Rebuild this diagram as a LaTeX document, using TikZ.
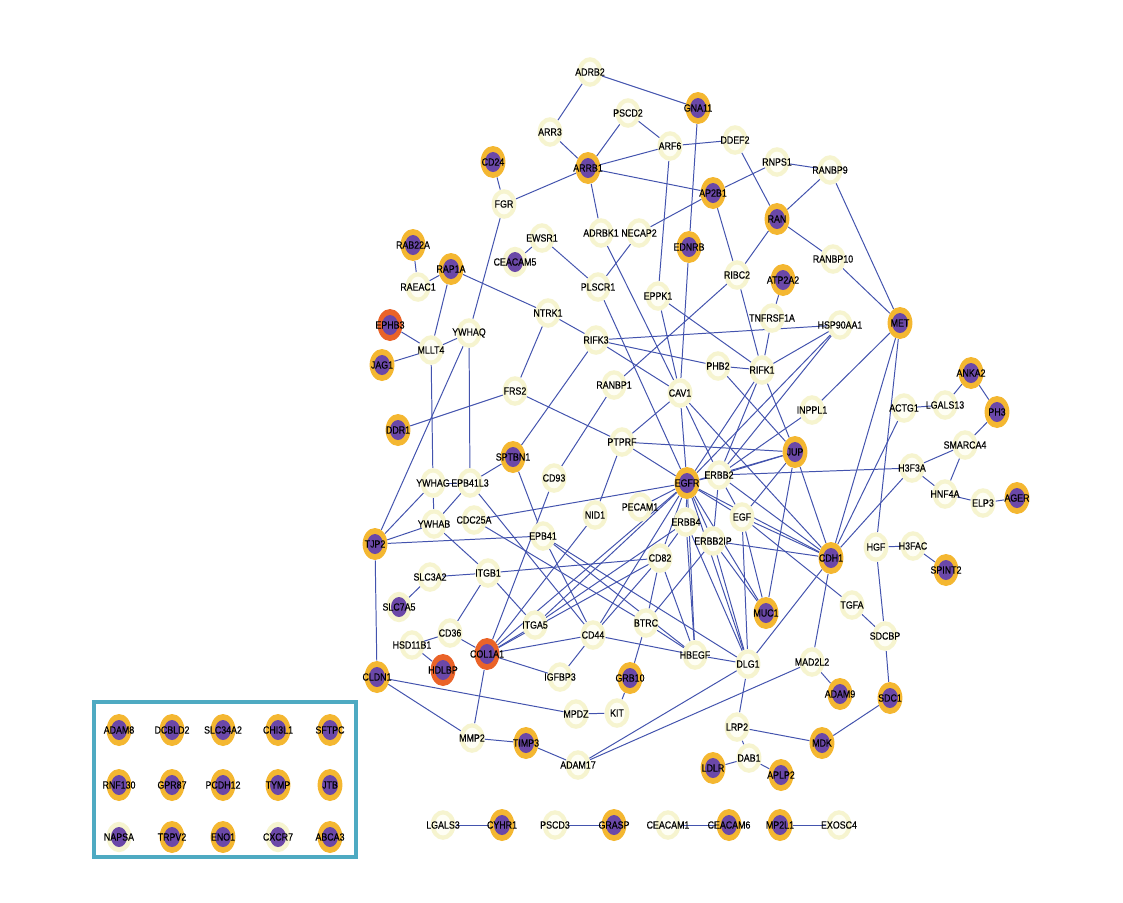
\documentclass[tikz,border=0pt]{standalone}
\usepackage{fontspec}
\newfontfamily\lblfont[FakeStretch=0.85,FakeBold=0.3]{Liberation Sans}
\usetikzlibrary{shapes.geometric}
\pgfdeclarelayer{bg}
\pgfsetlayers{bg,main}
\definecolor{gold}{HTML}{F4B731}
\definecolor{purp}{HTML}{6B48A8}
\definecolor{redo}{HTML}{EA6328}
\definecolor{cream}{HTML}{F6F4CF}
\definecolor{creamin}{HTML}{FEFEF4}
\definecolor{edgeblue}{HTML}{4353AE}
\definecolor{boxteal}{HTML}{4EAAC2}
\tikzset{
  nbase/.style={ellipse, inner sep=0pt, draw=none, minimum width=0.62cm, minimum height=0.8cm},
  gnode/.style={nbase, fill=gold, path picture={\fill[purp] (path picture bounding box.center) ellipse [x radius=0.2cm, y radius=0.25cm];}},
  rnode/.style={nbase, fill=redo, path picture={\fill[purp] (path picture bounding box.center) ellipse [x radius=0.2cm, y radius=0.25cm];}},
  cnode/.style={nbase, minimum height=0.74cm, fill=cream, path picture={\fill[creamin] (path picture bounding box.center) ellipse [x radius=0.2cm, y radius=0.26cm];}},
  cpnode/.style={nbase, minimum height=0.76cm, fill=cream, path picture={\fill[purp] (path picture bounding box.center) ellipse [x radius=0.2cm, y radius=0.25cm];}},
  lbl/.style={font=\lblfont\fontsize{7.4}{8}\selectfont, text=black, inner sep=0pt},
  edge/.style={draw=edgeblue, line width=0.7pt}
}
\begin{document}
\begin{tikzpicture}[x=0.025cm, y=-0.025cm]
\useasboundingbox (0,0) rectangle (1123,902);
% nodes
\node[cnode, label={[lbl]center:ADRB2}] (ADRB2) at (590,72) {};
\node[gnode, label={[lbl]center:GNA11}] (GNA11) at (698,108) {};
\node[cnode, label={[lbl]center:PSCD2}] (PSCD2) at (628,113) {};
\node[cnode, label={[lbl]center:ARR3}] (ARR3) at (550,132) {};
\node[cnode, label={[lbl]center:ARF6}] (ARF6) at (670,146) {};
\node[cnode, label={[lbl]center:DDEF2}] (DDEF2) at (735,140) {};
\node[gnode, label={[lbl]center:ARRB1}] (ARRB1) at (588,168) {};
\node[cnode, label={[lbl]center:RNPS1}] (RNPS1) at (777,162) {};
\node[cnode, label={[lbl]center:RANBP9}] (RANBP9) at (830,170) {};
\node[gnode, label={[lbl]center:CD24}] (CD24) at (493,162) {};
\node[gnode, label={[lbl]center:AP2B1}] (AP2B1) at (713,193) {};
\node[cnode, label={[lbl]center:FGR}] (FGR) at (504,204) {};
\node[gnode, label={[lbl]center:RAN}] (RAN) at (777,219) {};
\node[cnode, label={[lbl]center:ADRBK1}] (ADRBK1) at (601,233) {};
\node[cnode, label={[lbl]center:NECAP2}] (NECAP2) at (639,233) {};
\node[cnode, label={[lbl]center:EWSR1}] (EWSR1) at (542,238) {};
\node[gnode, label={[lbl]center:EDNRB}] (EDNRB) at (689,247) {};
\node[cnode, label={[lbl]center:RANBP10}] (RANBP10) at (833,259) {};
\node[cpnode, label={[lbl]center:CEACAM5}] (CEACAM5) at (515,262) {};
\node[gnode, label={[lbl]center:RAB22A}] (RAB22A) at (413,245) {};
\node[gnode, label={[lbl]center:RAP1A}] (RAP1A) at (451,269) {};
\node[cnode, label={[lbl]center:RAEAC1}] (RAEAC1) at (418,287) {};
\node[cnode, label={[lbl]center:PLSCR1}] (PLSCR1) at (598,287) {};
\node[cnode, label={[lbl]center:RIBC2}] (RIBC2) at (737,275) {};
\node[gnode, label={[lbl]center:ATP2A2}] (ATP2A2) at (783,280) {};
\node[cnode, label={[lbl]center:EPPK1}] (EPPK1) at (658,296) {};
\node[cnode, label={[lbl]center:NTRK1}] (NTRK1) at (548,313) {};
\node[rnode, label={[lbl]center:EPHB3}] (EPHB3) at (390,325) {};
\node[cnode, label={[lbl]center:MLLT4}] (MLLT4) at (431,350) {};
\node[cnode, label={[lbl]center:YWHAQ}] (YWHAQ) at (469,333) {};
\node[cnode, label={[lbl]center:RIFK3}] (RIFK3) at (596,340) {};
\node[cnode, label={[lbl]center:TNFRSF1A}] (TNFRSF1A) at (772,318) {};
\node[cnode, label={[lbl]center:HSP90AA1}] (HSP90AA1) at (840,325) {};
\node[gnode, label={[lbl]center:MET}] (MET) at (900,323) {};
\node[gnode, label={[lbl]center:JAG1}] (JAG1) at (382,365) {};
\node[cnode, label={[lbl]center:PHB2}] (PHB2) at (718,366) {};
\node[cnode, label={[lbl]center:RIFK1}] (RIFK1) at (762,370) {};
\node[cnode, label={[lbl]center:CAV1}] (CAV1) at (680,393) {};
\node[cnode, label={[lbl]center:RANBP1}] (RANBP1) at (614,385) {};
\node[cnode, label={[lbl]center:FRS2}] (FRS2) at (515,391) {};
\node[cnode, label={[lbl]center:INPPL1}] (INPPL1) at (812,410) {};
\node[cnode, label={[lbl]center:ACTG1}] (ACTG1) at (904,408) {};
\node[cnode, label={[lbl]center:LGALS13}] (LGALS13) at (945,405) {};
\node[gnode, label={[lbl]center:ANKA2}] (ANKA2) at (971,373) {};
\node[gnode, label={[lbl]center:PH3}] (PH3) at (997,412) {};
\node[gnode, label={[lbl]center:DDR1}] (DDR1) at (398,430) {};
\node[cnode, label={[lbl]center:PTPRF}] (PTPRF) at (622,442) {};
\node[gnode, label={[lbl]center:JUP}] (JUP) at (795,452) {};
\node[cnode, label={[lbl]center:SMARCA4}] (SMARCA4) at (965,445) {};
\node[gnode, label={[lbl]center:SPTBN1}] (SPTBN1) at (513,457) {};
\node[cnode, label={[lbl]center:CD93}] (CD93) at (554,478) {};
\node[gnode, label={[lbl]center:EGFR}] (EGFR) at (687,483) {};
\node[cnode, label={[lbl]center:ERBB2}] (ERBB2) at (719,475) {};
\node[cnode, label={[lbl]center:H3F3A}] (H3F3A) at (912,468) {};
\node[cnode, label={[lbl]center:YWHAG}] (YWHAG) at (433,483) {};
\node[cnode, label={[lbl]center:EPB41L3}] (EPB41L3) at (470,483) {};
\node[cnode, label={[lbl]center:HNF4A}] (HNF4A) at (945,494) {};
\node[cnode, label={[lbl]center:ELP3}] (ELP3) at (983,503) {};
\node[gnode, label={[lbl]center:AGER}] (AGER) at (1017,498) {};
\node[gnode, label={[lbl]center:TJP2}] (TJP2) at (375,544) {};
\node[cnode, label={[lbl]center:YWHAB}] (YWHAB) at (434,524) {};
\node[cnode, label={[lbl]center:CDC25A}] (CDC25A) at (474,520) {};
\node[cnode, label={[lbl]center:NID1}] (NID1) at (595,515) {};
\node[cnode, label={[lbl]center:PECAM1}] (PECAM1) at (640,507) {};
\node[cnode, label={[lbl]center:EGF}] (EGF) at (742,517) {};
\node[cnode, label={[lbl]center:ERBB4}] (ERBB4) at (686,522) {};
\node[cnode, label={[lbl]center:ERBB2IP}] (ERBB2IP) at (713,541) {};
\node[cnode, label={[lbl]center:EPB41}] (EPB41) at (543,536) {};
\node[cnode, label={[lbl]center:CD82}] (CD82) at (660,558) {};
\node[gnode, label={[lbl]center:CDH1}] (CDH1) at (831,558) {};
\node[cnode, label={[lbl]center:HGF}] (HGF) at (876,547) {};
\node[cnode, label={[lbl]center:H3FAC}] (H3FAC) at (913,546) {};
\node[gnode, label={[lbl]center:SPINT2}] (SPINT2) at (946,570) {};
\node[cnode, label={[lbl]center:ITGB1}] (ITGB1) at (488,573) {};
\node[cnode, label={[lbl]center:SLC3A2}] (SLC3A2) at (430,577) {};
\node[cpnode, label={[lbl]center:SLC7A5}] (SLC7A5) at (399,607) {};
\node[cnode, label={[lbl]center:TGFA}] (TGFA) at (852,605) {};
\node[gnode, label={[lbl]center:MUC1}] (MUC1) at (766,613) {};
\node[cnode, label={[lbl]center:ITGA5}] (ITGA5) at (535,625) {};
\node[cnode, label={[lbl]center:BTRC}] (BTRC) at (646,623) {};
\node[cnode, label={[lbl]center:CD44}] (CD44) at (593,635) {};
\node[cnode, label={[lbl]center:CD36}] (CD36) at (450,633) {};
\node[cnode, label={[lbl]center:HSD11B1}] (HSD11B1) at (412,645) {};
\node[rnode, label={[lbl]center:COL1A1}] (COL1A1) at (487,654) {};
\node[cnode, label={[lbl]center:HBEGF}] (HBEGF) at (695,655) {};
\node[cnode, label={[lbl]center:DLG1}] (DLG1) at (748,664) {};
\node[cnode, label={[lbl]center:SDCBP}] (SDCBP) at (885,636) {};
\node[cnode, label={[lbl]center:MAD2L2}] (MAD2L2) at (812,662) {};
\node[gnode, label={[lbl]center:CLDN1}] (CLDN1) at (377,677) {};
\node[rnode, label={[lbl]center:HDLBP}] (HDLBP) at (443,670) {};
\node[cnode, label={[lbl]center:IGFBP3}] (IGFBP3) at (560,677) {};
\node[gnode, label={[lbl]center:GRB10}] (GRB10) at (630,678) {};
\node[gnode, label={[lbl]center:ADAM9}] (ADAM9) at (840,694) {};
\node[gnode, label={[lbl]center:SDC1}] (SDC1) at (890,698) {};
\node[cnode, label={[lbl]center:MPDZ}] (MPDZ) at (576,714) {};
\node[cnode, label={[lbl]center:KIT}] (KIT) at (617,713) {};
\node[cnode, label={[lbl]center:LRP2}] (LRP2) at (737,727) {};
\node[gnode, label={[lbl]center:MDK}] (MDK) at (822,743) {};
\node[cnode, label={[lbl]center:MMP2}] (MMP2) at (472,738) {};
\node[gnode, label={[lbl]center:TIMP3}] (TIMP3) at (526,743) {};
\node[cnode, label={[lbl]center:ADAM17}] (ADAM17) at (578,765) {};
\node[cnode, label={[lbl]center:DAB1}] (DAB1) at (749,758) {};
\node[gnode, label={[lbl]center:LDLR}] (LDLR) at (713,768) {};
\node[gnode, label={[lbl]center:APLP2}] (APLP2) at (781,775) {};
% bottom pairs
\node[cnode, label={[lbl]center:LGALS3}] (LGALS3) at (443,825) {};
\node[gnode, label={[lbl]center:CYHR1}] (CYHR1) at (502,825) {};
\node[cnode, label={[lbl]center:PSCD3}] (PSCD3) at (555,825) {};
\node[gnode, label={[lbl]center:GRASP}] (GRASP) at (614,825) {};
\node[cnode, label={[lbl]center:CEACAM1}] (CEACAM1) at (668,825) {};
\node[gnode, label={[lbl]center:CEACAM6}] (CEACAM6) at (729,825) {};
\node[gnode, label={[lbl]center:MP2L1}] (MP2L1) at (780,825) {};
\node[cnode, label={[lbl]center:EXOSC4}] (EXOSC4) at (839,825) {};
% box
\draw[boxteal, line width=0.1cm] (94,702) rectangle (356,857);
\node[gnode, label={[lbl]center:ADAM8}] (ADAM8) at (119,730) {};
\node[gnode, label={[lbl]center:DCBLD2}] (DCBLD2) at (172,730) {};
\node[gnode, label={[lbl]center:SLC34A2}] (SLC34A2) at (223,730) {};
\node[gnode, label={[lbl]center:CHI3L1}] (CHI3L1) at (278,730) {};
\node[gnode, label={[lbl]center:SFTPC}] (SFTPC) at (330,730) {};
\node[gnode, label={[lbl]center:RNF130}] (RNF130) at (119,785) {};
\node[gnode, label={[lbl]center:GPR87}] (GPR87) at (172,785) {};
\node[gnode, label={[lbl]center:PCDH12}] (PCDH12) at (223,785) {};
\node[gnode, label={[lbl]center:TYMP}] (TYMP) at (278,785) {};
\node[gnode, label={[lbl]center:JTB}] (JTB) at (330,785) {};
\node[cpnode, label={[lbl]center:NAPSA}] (NAPSA) at (119,837) {};
\node[gnode, label={[lbl]center:TRPV2}] (TRPV2) at (172,837) {};
\node[gnode, label={[lbl]center:ENO1}] (ENO1) at (223,837) {};
\node[cpnode, label={[lbl]center:CXCR7}] (CXCR7) at (278,837) {};
\node[gnode, label={[lbl]center:ABCA3}] (ABCA3) at (330,837) {};
% edges
\begin{pgfonlayer}{bg}
\fill[white] (0,0) rectangle (1123,902);
\foreach \a/\b in {ADRB2/ARR3, ADRB2/GNA11, ARR3/ARRB1, PSCD2/ARRB1, PSCD2/ARF6, ARF6/ARRB1, ARF6/DDEF2, ARF6/EPPK1, ARRB1/FGR, ARRB1/ADRBK1, ARRB1/AP2B1, GNA11/EDNRB, DDEF2/RAN, AP2B1/RNPS1, AP2B1/NECAP2, AP2B1/RIBC2, RNPS1/RANBP9, RANBP9/RAN, RANBP9/MET, RAN/RIBC2, RAN/RANBP10, RANBP10/MET, RIBC2/RIFK1, RIBC2/RANBP1, ATP2A2/TNFRSF1A, TNFRSF1A/RIFK1, EDNRB/CAV1, NECAP2/PLSCR1, ADRBK1/CAV1, EWSR1/CEACAM5, EWSR1/PLSCR1, PLSCR1/EGFR, CD24/FGR, FGR/YWHAQ, RAB22A/RAEAC1, RAEAC1/RAP1A, RAP1A/NTRK1, RAP1A/MLLT4, NTRK1/RIFK3, NTRK1/FRS2, EPHB3/MLLT4, JAG1/MLLT4, MLLT4/YWHAQ, MLLT4/YWHAG, YWHAQ/EPB41L3, YWHAQ/TJP2, FRS2/DDR1, FRS2/PTPRF, RIFK3/CAV1, RIFK3/PHB2, RIFK3/HSP90AA1, RIFK3/SPTBN1, EPPK1/CAV1, EPPK1/RIFK1, PHB2/RIFK1, PHB2/JUP, RIFK1/HSP90AA1, RIFK1/JUP, RIFK1/EGFR, RIFK1/ERBB2, HSP90AA1/EGFR, HSP90AA1/ERBB2, MET/INPPL1, INPPL1/ERBB2, MET/CDH1, MET/HGF, ACTG1/LGALS13, ACTG1/CDH1, LGALS13/ANKA2, ANKA2/PH3, PH3/SMARCA4, SMARCA4/H3F3A, SMARCA4/HNF4A, H3F3A/HNF4A, ERBB2/H3F3A, H3F3A/CDH1, HNF4A/ELP3, ELP3/AGER, HGF/H3FAC, H3FAC/SPINT2, HGF/SDCBP, TGFA/SDCBP, SDCBP/SDC1, SDC1/MDK, MAD2L2/ADAM9, MAD2L2/CDH1, MAD2L2/ADAM17, DLG1/ADAM17, DLG1/LRP2, DLG1/CDH1, LRP2/MDK, LRP2/DAB1, DAB1/LDLR, DAB1/APLP2, EGFR/CDH1, EGF/CDH1, ERBB2IP/CDH1, JUP/CDH1, ERBB2/CDH1, EGF/TGFA, EGFR/MUC1, ERBB2IP/MUC1, EGF/MUC1, JUP/MUC1, JUP/EGFR, JUP/ERBB2, JUP/PTPRF, JUP/EGF, CAV1/PTPRF, CAV1/EGFR, CAV1/ERBB2, CAV1/CDH1, CD93/RANBP1, PTPRF/EGFR, PTPRF/NID1, SPTBN1/EPB41, SPTBN1/EPB41L3, EPB41L3/YWHAG, EPB41L3/YWHAB, EPB41L3/CD44, YWHAG/YWHAB, YWHAG/TJP2, YWHAB/TJP2, YWHAB/ITGB1, CDC25A/EGFR, CDC25A/BTRC, TJP2/EPB41, TJP2/CLDN1, EPB41/CD44, EPB41/HBEGF, EPB41/DLG1, ITGB1/SLC3A2, SLC3A2/SLC7A5, ITGB1/CD82, ITGB1/ITGA5, ITGB1/CD36, CD36/HSD11B1, CD36/COL1A1, HSD11B1/HDLBP, COL1A1/CD93, COL1A1/ITGA5, COL1A1/CD44, COL1A1/IGFBP3, COL1A1/MMP2, COL1A1/NID1, COL1A1/EGFR, COL1A1/CD82, ITGA5/EGFR, ITGA5/ERBB4, CD44/EGFR, CD44/CD82, CD44/IGFBP3, CD44/HBEGF, BTRC/CD82, BTRC/GRB10, BTRC/HBEGF, BTRC/ERBB2IP, GRB10/KIT, KIT/MPDZ, MPDZ/CLDN1, CLDN1/MMP2, MMP2/TIMP3, TIMP3/ADAM17, CD82/EGFR, CD82/HBEGF, CD82/ERBB4, ERBB4/EGFR, ERBB4/HBEGF, ERBB4/DLG1, ERBB2IP/EGFR, ERBB2IP/ERBB2, ERBB2IP/DLG1, EGF/EGFR, EGF/ERBB2, EGF/DLG1, ERBB2/EGFR, HBEGF/EGFR, HBEGF/DLG1, EGFR/DLG1, EGFR/PECAM1, LGALS3/CYHR1, PSCD3/GRASP, CEACAM1/CEACAM6, MP2L1/EXOSC4}
  \draw[edge] (\a) -- (\b);
\end{pgfonlayer}
\end{tikzpicture}
\end{document}
